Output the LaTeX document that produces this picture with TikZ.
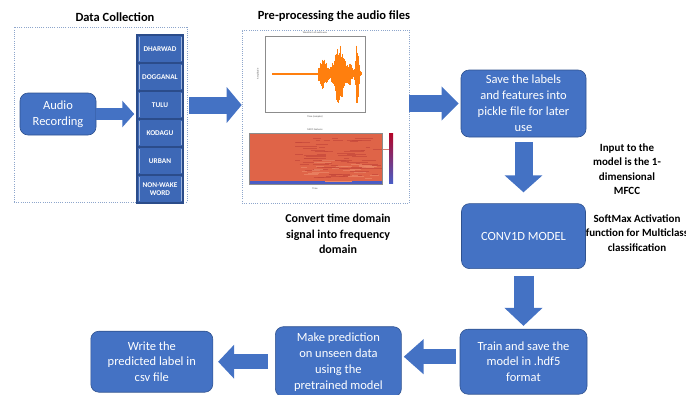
\documentclass[tikz,border=0pt]{standalone}
\usepackage{fontspec}
\setmainfont{Carlito}
\usepackage{tikz}
\usetikzlibrary{arrows.meta,positioning}
\definecolor{boxblue}{HTML}{4472C4}
\definecolor{boxedge}{HTML}{2F528F}
\definecolor{cellblue}{HTML}{3D68B6}
\definecolor{celledge}{HTML}{2B4C8A}
\definecolor{celllight}{HTML}{9DB5E0}
\definecolor{framegray}{HTML}{8EA6CC}
\definecolor{waveorange}{HTML}{FF7F0E}
\definecolor{specred}{HTML}{DF6448}
\definecolor{specdark}{HTML}{C4473A}
\definecolor{speclight}{HTML}{EC8A6A}
\definecolor{specblue}{HTML}{4A5CC4}
\definecolor{barred}{HTML}{B40426}
\tikzset{
  blue box/.style={
    rectangle, rounded corners=8pt,
    fill=boxblue, draw=boxedge, line width=0.6pt,
    text=white, align=center, inner sep=2pt,
    font=\fontsize{12.5}{16}\selectfont,
  },
  class box/.style={
    rectangle, fill=cellblue, draw=celledge, line width=1.5pt,
    minimum width=46pt, minimum height=28pt, inner sep=1pt,
    text=white, align=center,
    font=\bfseries\fontsize{7.3}{8.5}\selectfont,
    path picture={
      \draw[celllight, line width=0.7pt]
        ([xshift=2pt,yshift=-2pt]path picture bounding box.north west) --
        ([xshift=2pt,yshift=2pt]path picture bounding box.south west);
      \draw[celllight, line width=0.7pt]
        ([xshift=-2pt,yshift=-2pt]path picture bounding box.north east) --
        ([xshift=-2pt,yshift=2pt]path picture bounding box.south east);
    },
  },
  dotted frame/.style={
    rectangle, draw=framegray, line width=0.6pt, dash pattern=on 1pt off 1.2pt,
  },
  heading/.style={
    font=\bfseries\fontsize{12.5}{15}\selectfont,
  },
  annotation/.style={
    align=center, font=\bfseries\fontsize{11}{14.5}\selectfont,
  },
  block arrow/.style n args={3}{
    draw=boxblue, line width=#1, -{Triangle[width=#2,length=#3]},
  },
  plot text/.style={
    font=\fontsize{2.5}{3}\selectfont, text=black!70, inner sep=0pt,
  },
}

\begin{document}
\begin{tikzpicture}[x=1pt, y=-1pt, node distance=60pt]
  \useasboundingbox (0,0) rectangle (686,394);
  \clip (0,0) rectangle (686,394);

  % data collection
  \node [heading] (dchead) at (115,17) {Data Collection};
  \node [dotted frame, minimum width=173pt, minimum height=175pt] (dc) at (100.5,114.5) {};
  \node [blue box, minimum width=76pt, minimum height=42pt] (audio) at (58,114) {Audio\\Recording};
  \foreach \lab [count=\i] in {DHARWAD, DOGGANAL, TULU, KODAGU, URBAN, {NON-WAKE\\WORD}}
    \node [class box] (c\i) at (160,21+28*\i) {\lab};

  % pre-processing
  \node [heading] (prehead) at (334,16) {Pre-processing the audio files};
  \node [dotted frame, minimum width=167pt, minimum height=173pt] (pre) at (325.5,116.5) {};

  % waveform plot
  \draw [black!45, line width=0.3pt, fill=white] (265,36) rectangle (365,112);
  \node [plot text] (wtitle) at (315,33) {Waveform of audio.wav};
  \node [plot text, rotate=90] (wylab) at (258,74) {Amplitude};
  \node [plot text] (wxlab) at (315,117) {Time (samples)};
  \draw [waveorange, line width=1.3pt] (272,74) -- (318,74);
  \pgfmathsetseed{11}
  \foreach \x in {318,318.5,...,361}{
    \pgfmathsetmacro\env{14*exp(max(-30,-((\x-323)/5)*((\x-323)/5)))
      +30*exp(max(-30,-((\x-339)/6)*((\x-339)/6)))
      +8*exp(max(-30,-((\x-350)/3)*((\x-350)/3)))
      +32*exp(max(-30,-((\x-357)/1.8)*((\x-357)/1.8)))+2}
    \pgfmathsetmacro\up{\env*(0.5+0.5*rnd)}
    \pgfmathsetmacro\dn{\env*(0.5+0.5*rnd)}
    \draw [waveorange, line width=0.6pt] (\x,74-\up) -- (\x,74+\dn);
  }

  % mfcc plot
  \node [plot text] (stitle) at (315,130) {MFCC Features};
  \fill [specred] (249,133) rectangle (382,184);
  \foreach \k in {1,...,70}{
    \pgfmathsetmacro\yy{138+rnd*40}
    \pgfmathsetmacro\xa{295+rnd*80}
    \pgfmathsetmacro\len{4+rnd*18}
    \draw [specdark, line width=0.5pt, opacity=0.7] (\xa,\yy) -- ++(\len,0);
  }
  \foreach \k in {1,...,25}{
    \pgfmathsetmacro\yy{160+rnd*18}
    \pgfmathsetmacro\xa{300+rnd*70}
    \pgfmathsetmacro\len{4+rnd*14}
    \draw [speclight, line width=0.5pt, opacity=0.7] (\xa,\yy) -- ++(\len,0);
  }
  \fill [specblue] (249,180.5) rectangle (382,184);
  \fill [speclight] (325,180.5) rectangle (352,182);
  \draw [black!45, line width=0.3pt] (249,133) rectangle (382,184);
  \shade [top color=barred, middle color=white!87!black, bottom color=specblue]
    (389,133) rectangle (393,183);
  \node [plot text] (sxlab) at (315,189) {Time};

  \node [heading, align=center, font=\bfseries\fontsize{12}{15.5}\selectfont] (convert) at (338,234)
    {Convert time domain\\signal into frequency\\domain};

  % pipeline
  \node [blue box, minimum width=125pt, minimum height=67pt] (save) at (523.5,103.5)
    {Save the labels\\and features into\\pickle file for later\\use};
  \node [blue box, minimum width=124pt, minimum height=65pt, below=66pt of save] (conv)
    {CONV1D MODEL};
  \node [blue box, minimum width=127pt, minimum height=65pt, below=of conv] (train)
    {Train and save the\\model in .hdf5\\format};
  \node [blue box, minimum width=126pt, minimum height=70pt, left=58pt of train] (make)
    {Make prediction\\on unseen data\\using the\\pretrained model};
  \node [blue box, minimum width=122pt, minimum height=61pt, left=62pt of make] (write)
    {Write the\\predicted label in\\csv file};

  \node [annotation] (input) at (627,169) {Input to the\\model is the 1-\\dimensional\\MFCC};
  \node [annotation] (softmax) at (637,233) {SoftMax Activation\\function for Multiclass\\classification};

  % arrows
  \draw [block arrow={12pt}{26pt}{12pt}, shorten >=2pt] (audio.east) -- (audio.east -| c3.west);
  \draw [block arrow={17pt}{35pt}{15pt}, shorten <=5pt] (c3.east) -- (c3.east -| pre.west);
  \draw [block arrow={17pt}{33pt}{17pt}, shorten >=2pt] (pre.east |- save.west) -- (save.west);
  \draw [block arrow={18pt}{37pt}{17pt}, shorten <=5pt, shorten >=11pt] (save.south) -- (conv.north);
  \draw [block arrow={20pt}{37pt}{18pt}, shorten <=7pt, shorten >=3pt] (conv.south) -- (train.north);
  \draw [block arrow={15pt}{34pt}{20pt}, shorten <=4pt, shorten >=2pt]
    ([yshift=5pt]train.west) -- ([yshift=5pt]make.east);
  \draw [block arrow={15pt}{33pt}{16pt}, shorten <=7pt, shorten >=5pt] (make.west) -- (write.east);
\end{tikzpicture}
\end{document}
